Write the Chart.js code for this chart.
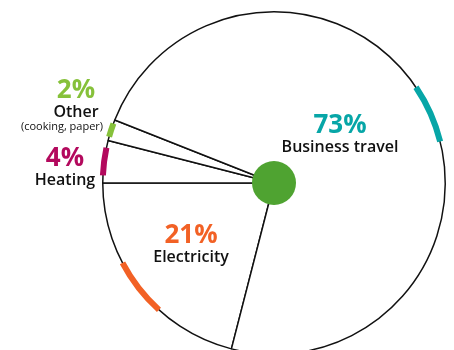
<!DOCTYPE html>
<html>
<head>
<meta charset="utf-8">
<script src="https://cdn.jsdelivr.net/npm/chart.js@4.4.0/dist/chart.umd.min.js"></script>
<style>
  html, body { margin: 0; padding: 0; background: #fff; overflow: hidden; }
  #wrap { position: relative; width: 454px; height: 360px; }
</style>
</head>
<body>
<div id="wrap"><canvas id="footprint"></canvas></div>
<script>
// Carbon footprint breakdown, share of total (%)
const categories = ['Electricity', 'Heating', 'Other', 'Business travel'];
const notes = ['', '', '(cooking, paper)', ''];
const shares = [21, 4, 2, 73];
const accentColors = ['#f26125', '#b3095d', '#86c13a', '#07a6a7'];

// where each label block sits, offset from the pie centre (px)
const labelOffsets = [[-83, 53], [-209, -24], [-198, -92], [66, -57]];

const total = shares.reduce((a, b) => a + b, 0);

// Electricity ends exactly at 9 o'clock
const startRotation = 270 - shares[0] / total * 360;

// short thick arc on the rim, centred in each slice
const accentArcs = {
    id: 'accentArcs',
    afterDatasetsDraw(chart) {
        const ctx = chart.ctx;
        chart.getDatasetMeta(0).data.forEach((arc, i) => {
            const p = arc.getProps(['x', 'y', 'startAngle', 'endAngle', 'outerRadius'], true);
            let mid = (p.startAngle + p.endAngle) / 2;
            if (i === 3) mid += 3 * Math.PI / 180; // travel mark sits a bit past the middle
            const half = Math.min(20 * Math.PI / 180, (p.endAngle - p.startAngle) * 0.65) / 2;
            ctx.save();
            ctx.strokeStyle = accentColors[i];
            ctx.lineWidth = 6;
            ctx.beginPath();
            ctx.arc(p.x, p.y, p.outerRadius, mid - half, mid + half);
            ctx.stroke();
            ctx.restore();
        });
    }
};

// green hub + text labels
const hubAndLabels = {
    id: 'hubAndLabels',
    afterDraw(chart) {
        const ctx = chart.ctx;
        const first = chart.getDatasetMeta(0).data[0];
        const cx = first.x, cy = first.y;

        ctx.save();
        ctx.fillStyle = '#4fa331';
        ctx.beginPath();
        ctx.arc(cx, cy, 22, 0, Math.PI * 2);
        ctx.fill();

        ctx.textAlign = 'center';
        ctx.textBaseline = 'middle';
        categories.forEach((name, i) => {
            const x = cx + labelOffsets[i][0];
            const y = cy + labelOffsets[i][1];
            ctx.fillStyle = accentColors[i];
            ctx.font = 'bold 26px "Open Sans", sans-serif';
            ctx.fillText(shares[i] + '%', x, y);
            ctx.fillStyle = '#111';
            ctx.font = '600 16px "Open Sans", sans-serif';
            ctx.fillText(name, x, y + 21);
            if (notes[i]) {
                ctx.font = '11px "Open Sans", sans-serif';
                ctx.fillText(notes[i], x - 14, y + 36);
            }
        });
        ctx.restore();
    }
};

new Chart(document.getElementById('footprint'), {
    type: 'pie',
    data: {
        labels: categories,
        datasets: [{
            data: shares,
            backgroundColor: '#fff',
            borderColor: '#111',
            borderWidth: 1.5,
            hoverOffset: 0
        }]
    },
    options: {
        responsive: true,
        maintainAspectRatio: false,
        animation: false,
        rotation: startRotation,
        events: [],
        layout: { padding: { left: 102, right: 8, top: 11, bottom: 5 } },
        plugins: {
            legend: { display: false },
            tooltip: { enabled: false }
        }
    },
    plugins: [accentArcs, hubAndLabels]
});
</script>
</body>
</html>
